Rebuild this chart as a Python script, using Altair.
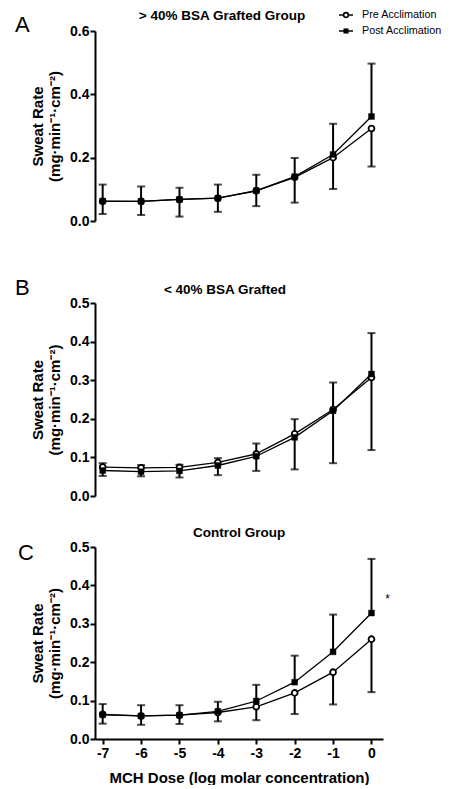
import altair as alt
import pandas as pd

FONT = "Liberation Sans"

doses = [-7, -6, -5, -4, -3, -2, -1, 0]

# Panel A: > 40% BSA grafted
a_pre = [0.062, 0.062, 0.068, 0.072, 0.095, 0.138, 0.200, 0.292]
a_pre_err = [0.040, 0.043, 0.054, 0.043, 0.048, 0.080, 0.099, 0.120]
a_post = [0.063, 0.062, 0.068, 0.072, 0.096, 0.140, 0.210, 0.330]
a_post_err = [0.052, 0.047, 0.037, 0.043, 0.050, 0.059, 0.097, 0.167]

# Panel B: < 40% BSA grafted
b_pre = [0.075, 0.073, 0.074, 0.087, 0.109, 0.161, 0.224, 0.307]
b_pre_err = [0.023, 0.022, 0.026, 0.033, 0.044, 0.092, 0.139, 0.188]
b_post = [0.066, 0.063, 0.065, 0.079, 0.103, 0.152, 0.221, 0.316]
b_post_err = [0.019, 0.017, 0.016, 0.019, 0.033, 0.047, 0.073, 0.106]

# Panel C: control
c_pre = [0.064, 0.060, 0.062, 0.069, 0.084, 0.120, 0.174, 0.260]
c_pre_err = [0.024, 0.023, 0.023, 0.023, 0.035, 0.055, 0.084, 0.138]
c_post = [0.063, 0.060, 0.062, 0.072, 0.099, 0.148, 0.227, 0.328]
c_post_err = [0.028, 0.028, 0.026, 0.025, 0.042, 0.069, 0.097, 0.141]

series_names = ["Pre Acclimation", "Post Acclimation"]
panel_titles = {"A": "> 40% BSA Grafted Group", "B": "< 40% BSA Grafted", "C": "Control Group"}
y_title = ["Sweat Rate", "(mg·min⁻¹·cm⁻²)"]
x_title = "MCH Dose (log molar concentration)"

rows = []
for key, pre, pre_e, post, post_e in [
    ("A", a_pre, a_pre_err, a_post, a_post_err),
    ("B", b_pre, b_pre_err, b_post, b_post_err),
    ("C", c_pre, c_pre_err, c_post, c_post_err),
]:
    for d, m, e in zip(doses, pre, pre_e):
        rows.append({"panel": key, "dose": d, "series": "Pre", "mean": m, "end": m - e})
    for d, m, e in zip(doses, post, post_e):
        rows.append({"panel": key, "dose": d, "series": "Post", "mean": m, "end": m + e})
df = pd.DataFrame(rows)

one = pd.DataFrame({"a": [0]})


def const_text(txt, x, y, **kw):
    return alt.Chart(one).mark_text(font=FONT, color="black", **kw).encode(
        x=alt.value(x), y=alt.value(y), text=alt.value(txt))


def panel(key, ymax, yvals, height, show_x, title_x, title_y, letter_x, letter_y, legend=False, star=None):
    sub = df[df.panel == key]
    base = alt.Chart(sub)
    xscale = alt.Scale(domain=[-7.2, 0.3], nice=False, zero=False)
    if show_x:
        xaxis = alt.Axis(values=doses, labelExpr="'' + datum.value", title=x_title,
                         titlePadding=10, labelPadding=2)
    else:
        xaxis = None
    yscale = alt.Scale(domain=[0, ymax], nice=False)
    yaxis = alt.Axis(values=yvals, format=".1f", title=y_title, titlePadding=7,
                     labelPadding=1, titleLineHeight=17)
    X = alt.X("dose:Q", scale=xscale, axis=xaxis)

    def Y(field):
        return alt.Y(field, type="quantitative", scale=yscale, axis=yaxis)

    lines = base.mark_line(color="black", strokeWidth=1.3).encode(
        x=X, y=Y("mean"), detail="series:N")
    bars = base.mark_rule(color="black", strokeWidth=2).encode(
        x=X, y=Y("mean"), y2="end:Q")
    caps = base.mark_tick(color="black", orient="horizontal", size=8, thickness=2).encode(
        x=X, y=Y("end"))
    pre_pts = base.transform_filter(alt.datum.series == "Pre").mark_point(
        shape="circle", filled=True, fill="white", stroke="black", strokeWidth=1.8,
        size=34, opacity=1).encode(x=X, y=Y("mean"))
    post_pts = base.transform_filter(alt.datum.series == "Post").mark_point(
        shape="square", filled=True, fill="black", stroke="black", strokeWidth=0.5,
        size=34, opacity=1).encode(x=X, y=Y("mean"))

    ttl = const_text(panel_titles[key], title_x, title_y, fontWeight="bold", fontSize=13.5,
                     align="center", baseline="alphabetic")
    let = const_text(key, letter_x, letter_y, fontSize=22, align="left", baseline="alphabetic")
    layers = [lines, bars, caps, pre_pts, post_pts, ttl, let]

    if legend:
        ys = [-16, 0]
        layers += [
            alt.Chart(one).mark_rule(color="black", strokeWidth=1.5).encode(
                x=alt.value(244), x2=alt.value(258), y=alt.value(ys[0])),
            alt.Chart(one).mark_rule(color="black", strokeWidth=1.5).encode(
                x=alt.value(244), x2=alt.value(258), y=alt.value(ys[1])),
            alt.Chart(one).mark_point(
                shape="circle", filled=True, fill="white", stroke="black", strokeWidth=1.6,
                size=22, opacity=1).encode(x=alt.value(251), y=alt.value(ys[0])),
            alt.Chart(one).mark_point(
                shape="square", filled=True, fill="black", size=26, opacity=1).encode(
                x=alt.value(251), y=alt.value(ys[1])),
            const_text(series_names[0], 267, ys[0], fontSize=10.8, align="left", baseline="middle"),
            const_text(series_names[1], 267, ys[1], fontSize=10.8, align="left", baseline="middle"),
        ]
    if star is not None:
        st = pd.DataFrame({"dose": [star[0]], "val": [star[1]], "txt": ["*"]})
        layers.append(alt.Chart(st).mark_text(font=FONT, fontSize=12, color="black",
                                              baseline="middle").encode(
            x=X, y=Y("val"), text="txt:N"))

    return alt.layer(*layers).properties(width=288, height=height)


def spacer(h):
    return alt.Chart(one).mark_point(opacity=0).encode(
        x=alt.value(0), y=alt.value(0)).properties(width=288, height=h)


pA = panel("A", 0.6, [0.0, 0.2, 0.4, 0.6], 190, False, 127, -11, -80, 1, legend=True)
pB = panel("B", 0.5, [0.0, 0.1, 0.2, 0.3, 0.4, 0.5], 193, False, 130, -9, -80, -8)
pC = panel("C", 0.5, [0.0, 0.1, 0.2, 0.3, 0.4, 0.5], 192, True, 144, -10, -77, 13,
           star=(0.42, 0.365))

chart = alt.vconcat(pA, spacer(82), pB, spacer(51), pC, spacing=0, bounds="flush").properties(
    padding={"left": 7, "top": 1, "right": 0, "bottom": 0}
).configure_view(stroke=None).configure_axis(
    grid=False, domainColor="black", domainWidth=2, tickColor="black", tickWidth=2,
    tickSize=5, labelFont=FONT, labelFontWeight="bold", labelFontSize=14,
    labelColor="black", titleFont=FONT, titleFontWeight="bold", titleFontSize=15,
    titleColor="black"
)

chart.save("out.html", embed_options={"renderer": "svg", "actions": False})
